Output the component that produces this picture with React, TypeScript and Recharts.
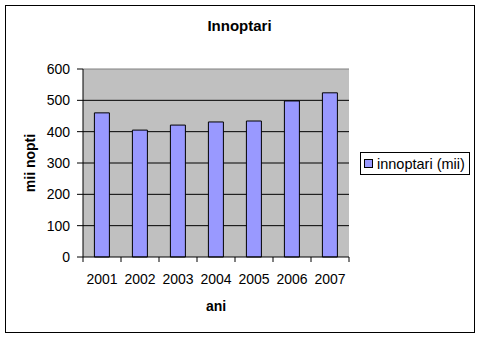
import { Bar, BarChart, CartesianGrid, Label, Legend, ReferenceLine, XAxis, YAxis } from "recharts";

const years = ["2001", "2002", "2003", "2004", "2005", "2006", "2007"];
const innoptari = [460, 405, 421, 431, 434, 498, 524];
const yTicks = [0, 100, 200, 300, 400, 500, 600];

const data = years.map((an, i) => ({ an, innoptari: innoptari[i] }));

const FONT = "'Liberation Sans', Arial, sans-serif";

const XTick = (props: any) => {
	const { x, y, payload, index, visibleTicksCount } = props;
	const half = payload?.offset ?? 19;
	const last = index === (visibleTicksCount ?? years.length) - 1;
	return (
		<g>
			<line x1={x - half} x2={x - half} y1={y} y2={y + 5} stroke="#000" />
			{last && <line x1={x + half} x2={x + half} y1={y} y2={y + 5} stroke="#000" />}
			<text
				x={x}
				y={y + 22}
				textAnchor="middle"
				dominantBaseline="central"
				fontSize={14}
				fontFamily={FONT}
				fill="#000"
			>
				{payload.value}
			</text>
		</g>
	);
};

const LegendBox = () => (
	<div
		style={{
			border: "1px solid #000",
			background: "#fff",
			padding: "1px 3px",
			display: "flex",
			alignItems: "center",
			fontFamily: FONT,
			fontSize: 14.5,
			width: 102,
			height: 19,
			whiteSpace: "nowrap",
		}}
	>
		<span
			style={{
				display: "inline-block",
				width: 7,
				height: 7,
				background: "#9999FF",
				border: "1px solid #000",
				marginRight: 4,
			}}
		/>
		<span>innoptari (mii)</span>
	</div>
);

export default function App() {
	return (
		<div style={{ position: "absolute", left: 0, top: 0, width: 481, height: 337, background: "#fff" }}>
			<div
				style={{
					position: "absolute",
					left: 5,
					top: 5,
					width: 468,
					height: 326,
					border: "1px solid #000",
				}}
			/>
			<div
				style={{
					position: "absolute",
					left: 0,
					top: 17,
					width: 479,
					textAlign: "center",
					fontFamily: FONT,
					fontWeight: "bold",
					fontSize: 15,
				}}
			>
				Innoptari
			</div>
			<div style={{ position: "absolute", left: 0, top: 0 }}>
				<BarChart
					width={481}
					height={337}
					data={data}
					barCategoryGap="30%"
					margin={{ top: 69, right: 22, bottom: 40, left: 23 }}
				>
					<CartesianGrid
						stroke="#000"
						fill="#C0C0C0"
						vertical={false}
						horizontalValues={[100, 200, 300, 400, 500]}
					/>
					<ReferenceLine y={600} stroke="#808080" ifOverflow="visible" />
					<XAxis
						dataKey="an"
						height={40}
						tickSize={0}
						tickMargin={0}
						tickLine={false}
						axisLine={{ stroke: "#000" }}
						tick={<XTick />}
						interval={0}
					>
						<Label
							content={(p: any) => {
								const vb = p.viewBox;
								return (
									<text
										x={vb.x + vb.width / 2}
										y={vb.y + 49}
										textAnchor="middle"
										dominantBaseline="central"
										fontSize={14}
										fontWeight="bold"
										fontFamily={FONT}
									>
										ani
									</text>
								);
							}}
						/>
					</XAxis>
					<YAxis
						yAxisId="right"
						orientation="right"
						width={0}
						domain={[0, 600]}
						tick={false}
						tickLine={false}
						axisLine={{ stroke: "#808080" }}
					/>
					<YAxis
						width={60}
						domain={[0, 600]}
						ticks={yTicks}
						tickSize={6}
						tickMargin={7}
						tickLine={{ stroke: "#000" }}
						axisLine={{ stroke: "#000" }}
						tick={{ fill: "#000", fontSize: 14, fontFamily: FONT }}
					>
						<Label
							content={(p: any) => {
								const vb = p.viewBox;
								const cx = vb.x + 7;
								const cy = vb.y + vb.height / 2;
								return (
									<text
										x={cx}
										y={cy}
										transform={`rotate(-90 ${cx} ${cy})`}
										textAnchor="middle"
										dominantBaseline="central"
										fontSize={14}
										fontWeight="bold"
										fontFamily={FONT}
									>
										mii nopti
									</text>
								);
							}}
						/>
					</YAxis>
					<Legend
						layout="vertical"
						align="right"
						verticalAlign="middle"
						content={() => <LegendBox />}
						wrapperStyle={{ top: 152, right: 11 }}
					/>
					<Bar
						dataKey="innoptari"
						fill="#9999FF"
						stroke="#000"
						strokeWidth={1}
						isAnimationActive={false}
					/>
				</BarChart>
			</div>
		</div>
	);
}
